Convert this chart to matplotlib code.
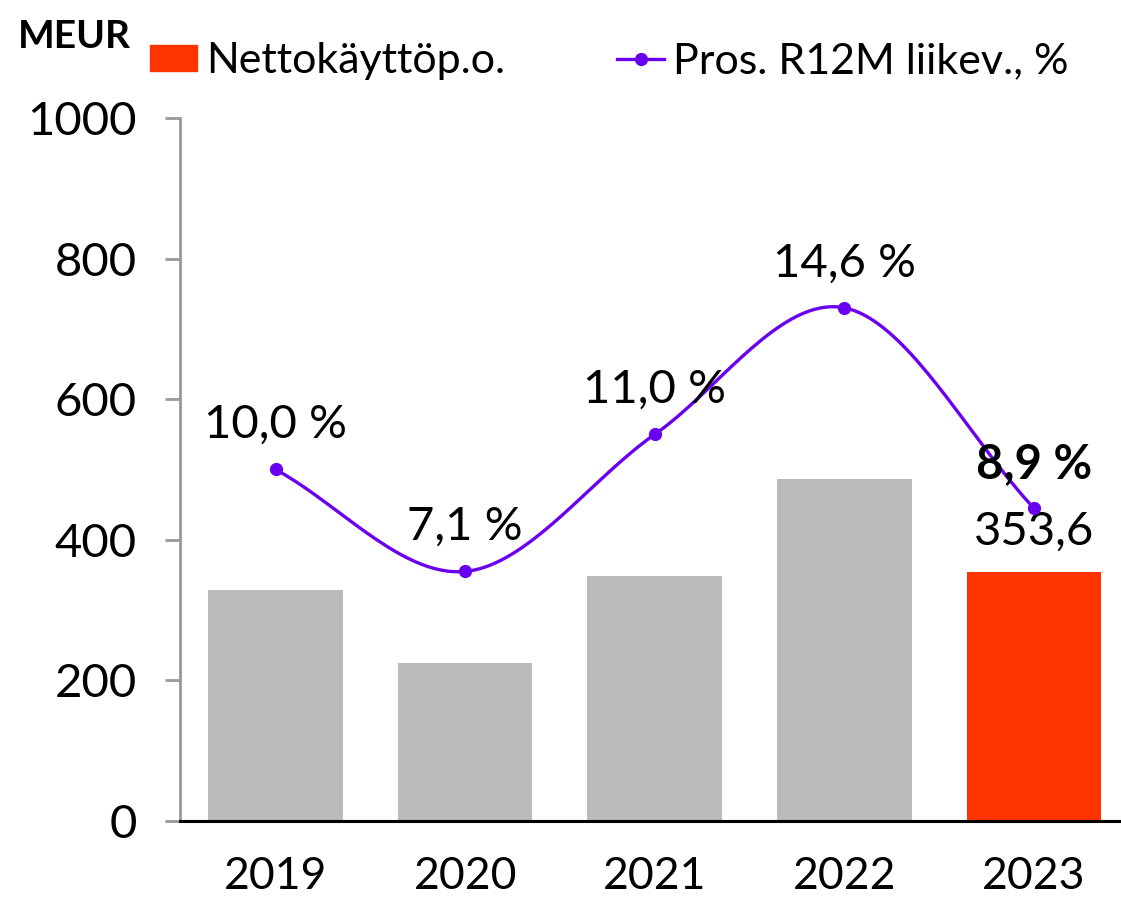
import numpy as np
import matplotlib
matplotlib.use("Agg")
import matplotlib.pyplot as plt
from matplotlib.patches import Patch
from matplotlib.lines import Line2D

years = ["2019", "2020", "2021", "2022", "2023"]
net_sales = [329, 225, 349, 487, 353.6]
margin_pct = [10.0, 7.1, 11.0, 14.6, 8.9]
margin_labels = ["10,0 %", "7,1 %", "11,0 %", "14,6 %", "8,9 %"]
last_bar_label = "353,6"
y_ticks = [0, 200, 400, 600, 800, 1000]

FONT = "Lato"
plt.rcParams["font.family"] = [FONT, "DejaVu Sans"]

GRAY = "#BBBBBB"
RED = "#FF3300"
VIOLET = "#6A00F0"
FS_TICK = 34
FS_LAB = 34
FS_LEG = 31

fig = plt.figure(figsize=(11.21, 9.02), dpi=100)
ax = fig.add_axes([180 / 1121, 1 - 821 / 902, 1 - 180 / 1121, (821 - 118) / 902])

x = np.arange(len(years))
colors = [GRAY] * (len(years) - 1) + [RED]
ax.bar(x, net_sales, width=0.71, color=colors, zorder=2)
ax.set_xlim(-0.504, 4.459)
ax.set_ylim(0, 1000)
ax.set_yticks(y_ticks)
ax.set_yticklabels([str(v) for v in y_ticks], fontsize=FS_TICK)
ax.set_xticks(x)
ax.set_xticklabels(years, fontsize=32)
for s in ["top", "right"]:
    ax.spines[s].set_visible(False)
ax.spines["left"].set_color("#999999")
ax.spines["left"].set_linewidth(2)
ax.spines["bottom"].set_color("black")
ax.spines["bottom"].set_linewidth(2.2)
ax.spines["bottom"].set_zorder(3)
ax.tick_params(axis="y", length=11, width=2, color="#999999", pad=20)
ax.tick_params(axis="x", length=0, pad=25)

# secondary axis for percentages
ax2 = ax.twinx()
ax2.set_ylim(0, 20)
ax2.axis("off")

# smooth curve (Catmull-Rom through the data points)
def catmull(xp, yp, n=40):
    xp = np.asarray(xp, float); yp = np.asarray(yp, float)
    P = np.column_stack([xp, yp])
    P = np.vstack([P[0] - (P[1] - P[0]), P, P[-1] + (P[-1] - P[-2])])
    out = []
    for i in range(1, len(P) - 2):
        p0, p1, p2, p3 = P[i - 1], P[i], P[i + 1], P[i + 2]
        t = np.linspace(0, 1, n)[:, None]
        seg = 0.5 * ((2 * p1) + (-p0 + p2) * t + (2 * p0 - 5 * p1 + 4 * p2 - p3) * t ** 2
                     + (-p0 + 3 * p1 - 3 * p2 + p3) * t ** 3)
        out.append(seg)
    out = np.vstack(out)
    return out[:, 0], out[:, 1]

cx, cy = catmull(x, margin_pct)
ax2.plot(cx, cy, color=VIOLET, lw=2.4, zorder=4)
ax2.plot(x, margin_pct, "o", color=VIOLET, ms=8.5, zorder=5)

for i, (v, lab) in enumerate(zip(margin_pct, margin_labels)):
    bold = i == len(years) - 1
    ax2.annotate(lab, (x[i], v), xytext=(0, 32), textcoords="offset points",
                 ha="center", va="center", fontsize=FS_LAB,
                 fontweight="bold" if bold else "normal", zorder=6)

ax.annotate(last_bar_label, (x[-1], net_sales[-1]), xytext=(0, 29), textcoords="offset points",
            ha="center", va="center", fontsize=FS_LAB, zorder=6)

fig.text(18 / 1121, 1 - 37 / 902, "MEUR", fontsize=28, fontweight="bold", va="center", ha="left")

handles = [Patch(color=RED, label="Nettokäyttöp.o."),
           Line2D([0], [0], color=VIOLET, lw=2.4, marker="o", ms=8.5, label="Pros. R12M liikev., %")]
fig.legend(handles=handles, loc="center left", bbox_to_anchor=(150 / 1121, 1 - 61 / 902),
           ncol=2, frameon=False, fontsize=FS_LEG, handlelength=1.1, handleheight=0.55,
           handletextpad=0.2, columnspacing=2.6, borderpad=0, borderaxespad=0)

fig.savefig("out.png", dpi=100)
